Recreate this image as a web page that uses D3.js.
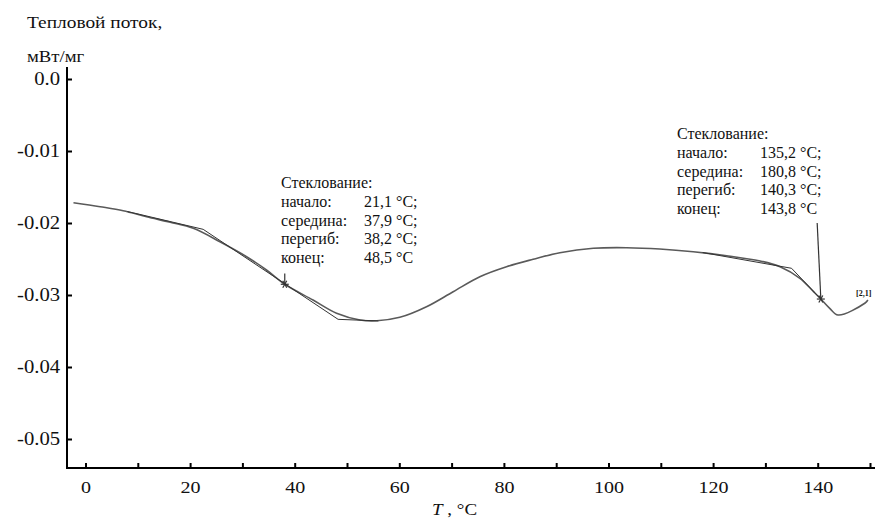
<!DOCTYPE html>
<html><head><meta charset="utf-8">
<script src="https://cdn.jsdelivr.net/npm/d3@7"></script>
<style>
body{margin:0;background:#fff;}
svg text{font-family:"Liberation Serif","DejaVu Serif","Times New Roman",serif !important;fill:#111;}
</style></head>
<body>
<svg id="c" width="875" height="518"></svg>
<script>
// ---- data ----
const temps = [-2.3, 2.8, 7.2, 11.7, 16.2, 20.6, 25.7, 30.8, 34.6, 38.1, 43.5, 48.0, 52.5, 55.7, 60.1, 65.2, 70.3, 75.4, 80.5, 85.6, 90.7, 97.1, 103.5, 109.8, 116.2, 122.6, 129.0, 132.8, 136.6, 139.2, 140.6, 142.3, 143.9, 149.0, 149.6];
const heatFlow = [-0.01718, -0.01774, -0.01829, -0.01913, -0.0199, -0.02074, -0.0226, -0.02468, -0.02653, -0.02851, -0.0307, -0.03254, -0.03347, -0.03357, -0.0331, -0.03163, -0.02954, -0.02746, -0.02607, -0.02504, -0.02413, -0.02351, -0.02343, -0.02361, -0.02399, -0.02454, -0.02528, -0.02607, -0.02768, -0.02954, -0.03056, -0.03185, -0.03278, -0.03115, -0.0307];
const tangent1T = [8, 22.5, 48.3, 56];
const tangent1V = [-0.0184, -0.02088, -0.03338, -0.0336];
const tangent2T = [118, 135.0, 140.6];
const tangent2V = [-0.0241, -0.02629, -0.03056];
const markerT = [38.1, 140.6];
const markerV = [-0.02851, -0.03056];
const markerTopT = [38.1, 139.9];
const markerTopV = [-0.0270, -0.0200];
const xTicks = [0,10,20,30,40,50,60,70,80,90,100,110,120,130,140,150];
const xTickLabels = ["0","","20","","40","","60","","80","","100","","120","","140",""];
const yTicks = [0,-0.01,-0.02,-0.03,-0.04,-0.05];
const yTickLabels = ["0.0","-0.01","-0.02","-0.03","-0.04","-0.05"];
const note1 = [["Стеклование:",""],["начало:","21,1 °C;"],["середина:","37,9 °C;"],["перегиб:","38,2 °C;"],["конец:","48,5 °C"]];
const note2 = [["Стеклование:",""],["начало:","135,2 °C;"],["середина:","180,8 °C;"],["перегиб:","140,3 °C;"],["конец:","143,8 °C"]];

const FONT = "Liberation Serif, DejaVu Serif, serif";
const svg = d3.select("#c");
const x = d3.scaleLinear().domain([0,140]).range([85.5,817.7]);
const y = d3.scaleLinear().domain([0,-0.05]).range([79,439]);
const axisY0 = 468, axisX0 = 67;

// x axis
const gx = svg.append("g").attr("transform",`translate(0,${axisY0})`)
  .call(d3.axisBottom(x).tickValues(xTicks).tickSizeInner(-5).tickSizeOuter(0).tickPadding(13)
    .tickFormat((d,i)=>xTickLabels[i]));
gx.attr("font-family",FONT);
gx.select(".domain").remove();
gx.selectAll(".tick line").attr("stroke","#000").attr("stroke-width",2);
gx.selectAll(".tick text").attr("font-size",17).attr("fill","#111")
  .attr("transform","scale(1.18,1)");
svg.append("line").attr("x1",axisX0-1).attr("x2",875).attr("y1",axisY0).attr("y2",axisY0)
  .attr("stroke","#000").attr("stroke-width",2);

// y axis
const gy = svg.append("g").attr("transform",`translate(${axisX0},0)`)
  .call(d3.axisLeft(y).tickValues(yTicks).tickSizeInner(-5).tickSizeOuter(0).tickPadding(6)
    .tickFormat((d,i)=>yTickLabels[i]));
gy.attr("font-family",FONT);
gy.select(".domain").remove();
gy.selectAll(".tick line").attr("stroke","#000").attr("stroke-width",2);
gy.selectAll(".tick text").attr("font-size",18).attr("fill","#111")
  .attr("transform","scale(1.15,1)");
svg.append("line").attr("x1",axisX0).attr("x2",axisX0).attr("y1",67).attr("y2",axisY0+1)
  .attr("stroke","#000").attr("stroke-width",2);

// axis titles
svg.append("text").attr("transform","translate(27,28) scale(1.14,1)").attr("font-size",17).text("Тепловой поток,");
svg.append("text").attr("transform","translate(27,62) scale(1.17,1)").attr("font-size",16).text("мВт/мг");
const xt = svg.append("text").attr("transform","translate(432,515) scale(1.12,1)").attr("font-size",17);
xt.append("tspan").attr("font-style","italic").text("T");
xt.append("tspan").text(" , °C");

// curve
const line = d3.line().x(d=>x(d[0])).y(d=>y(d[1]));
svg.append("path").datum(temps.map((t,i)=>[t,heatFlow[i]]))
  .attr("d", line.curve(d3.curveCatmullRom.alpha(0.5)))
  .attr("fill","none").attr("stroke","#5a5a5a").attr("stroke-width",1.6);

// tangents
const lin = d3.line().x(d=>x(d[0])).y(d=>y(d[1]));
[[tangent1T,tangent1V],[tangent2T,tangent2V]].forEach(([T,V])=>{
  svg.append("path").datum(T.map((t,i)=>[t,V[i]])).attr("d",lin)
    .attr("fill","none").attr("stroke","#333").attr("stroke-width",1);
});
// marker lines & asterisks
markerT.forEach((t,i)=>{
  svg.append("line").attr("x1",x(markerTopT[i])).attr("y1",y(markerTopV[i]))
    .attr("x2",x(t)).attr("y2",y(markerV[i])).attr("stroke","#333").attr("stroke-width",1.2);
  const cx = x(t), cy = y(markerV[i]), r = 4;
  const g = svg.append("g").attr("stroke","#333").attr("stroke-width",1.2);
  [0,60,120].forEach(a=>{
    const rad = a*Math.PI/180;
    g.append("line").attr("x1",cx-r*Math.cos(rad)).attr("y1",cy-r*Math.sin(rad))
      .attr("x2",cx+r*Math.cos(rad)).attr("y2",cy+r*Math.sin(rad));
  });
});
svg.append("text").attr("x",856).attr("y",296).attr("font-size",8).attr("font-weight","bold")
  .attr("fill","#444").text("[2,1]");

// annotations
function note(data, x0, xv, y0){
  data.forEach((r,i)=>{
    svg.append("text").attr("x",x0).attr("y",y0+i*18.8).attr("font-size",16).attr("fill","#1a1a1a").text(r[0]);
    if(r[1]) svg.append("text").attr("x",xv).attr("y",y0+i*18.8).attr("font-size",16).attr("fill","#1a1a1a").text(r[1]);
  });
}
note(note1, 281, 364, 188);
note(note2, 677, 760, 139);
</script>
</body></html>
